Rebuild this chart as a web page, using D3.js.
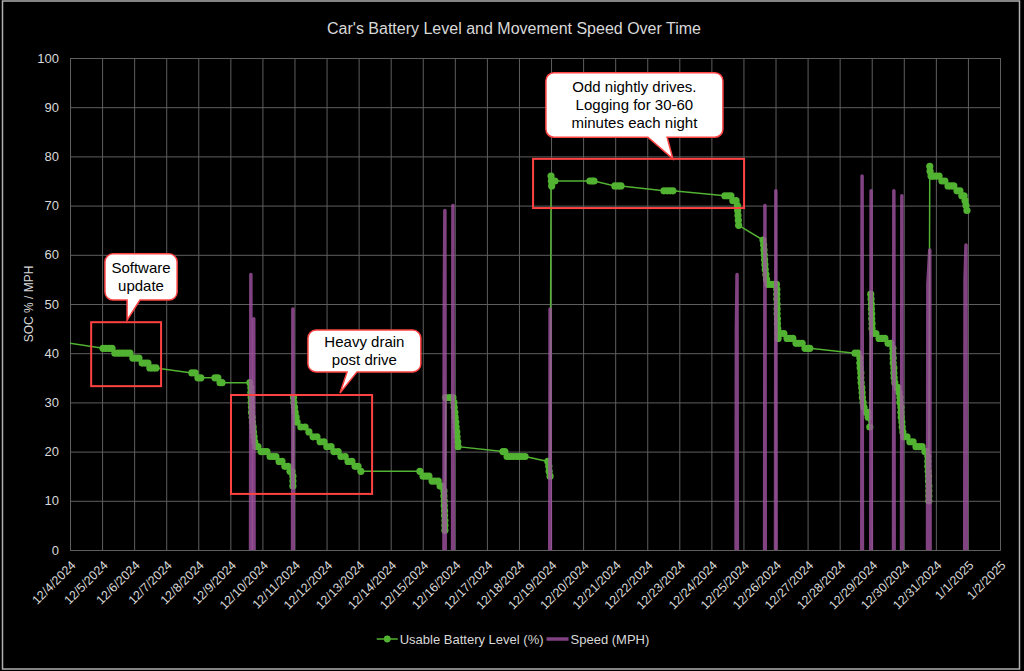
<!DOCTYPE html>
<html>
<head>
<meta charset="utf-8">
<script src="https://cdn.jsdelivr.net/npm/d3@7"></script>
<style>
  body { margin: 0; background: #000; }
  text { font-family: "Liberation Sans", Arial, sans-serif; }
</style>
</head>
<body>
<svg id="chart" width="1024" height="671"></svg>
<script>
// day offsets are days since 12/4/2024 00:00
const startDate = new Date(2024, 11, 4);
const endDate = new Date(2025, 0, 2);
const yTicks = [0, 10, 20, 30, 40, 50, 60, 70, 80, 90, 100];

// Usable Battery Level (%) log: [day offset, soc]
const battery = [
  [-1.00, 43], [0.00, 42],
  [1.03, 41], [1.12, 41], [1.22, 41], [1.31, 41],
  [1.40, 40], [1.50, 40], [1.59, 40], [1.68, 40], [1.78, 40], [1.87, 40],
  [1.96, 39], [2.06, 39], [2.15, 39],
  [2.25, 38], [2.34, 38], [2.43, 38],
  [2.49, 37], [2.59, 37], [2.68, 37],
  [3.80, 36], [3.90, 36], [3.99, 35], [4.08, 35],
  [4.52, 35], [4.61, 35], [4.68, 34], [4.74, 34],
  [5.61, 34], [5.64, 33], [5.64, 32], [5.65, 31], [5.65, 30], [5.66, 29], [5.66, 28],
  [5.68, 27], [5.69, 26], [5.71, 25], [5.72, 24], [5.74, 23], [5.76, 22], [5.80, 21],
  [5.86, 21], [5.96, 20], [6.05, 20], [6.14, 20], [6.24, 19], [6.33, 19], [6.42, 19],
  [6.52, 18], [6.61, 18], [6.70, 17], [6.80, 17], [6.86, 16], [6.92, 16],
  [6.95, 15], [6.95, 14], [6.95, 13],
  [6.97, 31], [6.98, 30], [7.00, 29], [7.02, 28], [7.05, 27], [7.08, 26], [7.20, 25],
  [7.33, 25], [7.45, 24], [7.58, 23], [7.70, 23], [7.80, 22], [7.92, 22], [8.01, 21],
  [8.14, 21], [8.23, 20], [8.36, 20], [8.45, 19], [8.58, 19], [8.67, 18], [8.79, 18],
  [8.89, 17], [8.98, 17], [9.07, 16],
  [10.91, 16], [11.01, 15], [11.10, 15], [11.19, 15], [11.29, 14], [11.38, 14], [11.48, 14],
  [11.54, 13], [11.60, 13],
  [11.66, 12], [11.66, 11], [11.67, 10], [11.67, 9], [11.68, 8], [11.68, 7], [11.69, 6],
  [11.69, 5], [11.69, 4],
  [11.72, 31], [11.85, 31], [11.94, 31], [11.97, 30], [11.98, 29], [12.00, 28], [12.01, 27],
  [12.03, 26], [12.04, 25], [12.06, 24], [12.07, 23], [12.09, 22], [12.10, 21],
  [13.50, 20], [13.56, 20], [13.63, 19], [13.72, 19], [13.81, 19], [13.91, 19], [14.00, 19],
  [14.09, 19], [14.19, 19],
  [14.90, 18], [14.93, 17], [14.94, 16], [14.97, 15],
  [15.00, 76], [15.01, 75], [15.02, 74], [15.06, 75], [15.12, 75],
  [16.21, 75], [16.28, 75], [16.34, 75],
  [16.99, 74], [17.09, 74], [17.18, 74],
  [18.52, 73], [18.62, 73], [18.71, 73], [18.80, 73],
  [20.42, 72], [20.52, 72], [20.61, 72], [20.67, 71], [20.77, 71],
  [20.81, 70], [20.82, 69], [20.83, 68], [20.84, 67], [20.85, 66],
  [21.61, 63], [21.63, 62], [21.64, 61], [21.65, 60], [21.66, 59], [21.67, 58], [21.68, 57],
  [21.70, 56], [21.72, 55],
  [21.76, 54], [21.86, 54], [21.95, 54], [22.03, 54],
  [22.04, 53], [22.04, 52], [22.04, 51], [22.05, 50], [22.05, 49], [22.05, 48], [22.06, 47],
  [22.06, 46], [22.07, 45], [22.07, 44], [22.08, 43],
  [22.17, 44], [22.26, 44], [22.36, 43], [22.45, 43], [22.54, 43], [22.64, 42], [22.73, 42],
  [22.83, 42], [22.92, 41], [23.01, 41], [23.07, 41],
  [24.48, 40], [24.57, 40],
  [24.63, 39], [24.63, 38], [24.64, 37], [24.66, 36], [24.66, 35], [24.67, 34], [24.69, 33],
  [24.70, 32], [24.71, 31], [24.73, 30], [24.76, 29], [24.82, 28], [24.88, 28], [24.89, 27],
  [24.94, 25],
  [24.97, 52], [24.98, 51], [24.99, 50], [24.99, 49], [25.00, 48], [25.00, 47], [25.01, 46],
  [25.01, 45], [25.04, 44],
  [25.13, 44], [25.23, 43], [25.32, 43], [25.41, 43], [25.51, 42], [25.60, 42], [25.66, 41],
  [25.66, 40], [25.67, 39], [25.67, 38], [25.69, 37], [25.69, 36], [25.70, 35], [25.72, 34],
  [25.79, 33], [25.82, 33], [25.85, 32], [25.88, 31], [25.88, 30], [25.91, 29], [25.91, 28],
  [25.92, 27], [25.94, 26], [25.95, 25], [25.97, 24], [26.00, 23],
  [26.10, 23], [26.19, 22], [26.29, 22], [26.38, 21], [26.47, 21], [26.57, 21], [26.66, 20],
  [26.72, 20],
  [26.75, 19], [26.75, 18], [26.75, 17], [26.76, 16], [26.77, 15], [26.77, 14], [26.78, 13],
  [26.78, 12], [26.78, 11], [26.78, 10],
  [26.81, 78], [26.82, 77], [26.85, 76], [26.91, 76], [27.00, 76], [27.10, 76], [27.19, 75],
  [27.28, 75], [27.38, 74], [27.47, 74], [27.56, 74], [27.66, 73], [27.75, 73], [27.81, 72],
  [27.88, 72], [27.91, 71], [27.94, 70], [27.97, 69]
];

// Speed (MPH) log, one array per drive: [day offset, mph]
const speedDrives = [
  [[5.63, 0], [5.64, 56], [5.65, 0]],
  [[5.72, 0], [5.73, 47], [5.74, 0]],
  [[6.94, 0], [6.95, 49], [6.96, 0]],
  [[11.66, 0], [11.67, 48], [11.69, 69], [11.70, 0]],
  [[11.93, 0], [11.94, 70], [11.95, 0]],
  [[14.96, 0], [14.97, 49], [14.98, 0]],
  [[20.77, 0], [20.78, 45], [20.80, 56], [20.81, 0]],
  [[21.66, 0], [21.67, 70], [21.68, 0]],
  [[22.00, 0], [22.01, 73], [22.02, 0]],
  [[24.69, 0], [24.70, 76], [24.71, 0]],
  [[24.97, 0], [24.98, 73], [24.99, 0]],
  [[25.68, 0], [25.69, 73], [25.70, 0]],
  [[25.93, 0], [25.94, 72], [25.95, 0]],
  [[26.74, 0], [26.75, 54], [26.81, 61], [26.82, 0]],
  [[27.90, 0], [27.91, 55], [27.94, 62], [27.95, 0]]
];

// annotation boxes and callouts, in data units
const boxes = [
  { d0: 0.66, d1: 2.84, v0: 33.3, v1: 46.3 },
  { d0: 5.02, d1: 9.42, v0: 11.4, v1: 31.5 },
  { d0: 14.44, d1: 21.02, v0: 69.5, v1: 79.5 }
];
const callouts = [
  { lines: ["Software", "update"], d0: 1.09, d1: 3.34, v0: 50.8, v1: 60.2,
    base: [1.78, 2.18], tip: [1.78, 46.7] },
  { lines: ["Heavy drain", "post drive"], d0: 7.42, d1: 10.94, v0: 36.2, v1: 44.7,
    base: [8.64, 8.95], tip: [8.42, 31.9] },
  { lines: ["Odd nightly drives.", "Logging for 30-60", "minutes each night"],
    d0: 14.84, d1: 20.36, v0: 83.9, v1: 97.0, base: [18.02, 18.62], tip: [18.80, 79.5] }
];

const W = 1024, H = 671;
const margin = { top: 58, right: 24, bottom: 121, left: 70 };
const plotW = W - margin.left - margin.right;
const plotH = H - margin.top - margin.bottom;

const green = "#52b232";
const purple = "#a052a0";
const red = "#ff4343";
const txt = "#d9d9d9";
const grid = "#5e5e5e";

const toDate = d => new Date(startDate.getTime() + d * 864e5);

const svg = d3.select("#chart");
svg.append("rect").attr("width", W).attr("height", H).attr("fill", "#000");
svg.append("rect")
  .attr("x", 2.5).attr("y", 1).attr("width", W - 7).attr("height", H - 3)
  .attr("fill", "none").attr("stroke", "#b0b0b0").attr("stroke-width", 1.5);

const x = d3.scaleTime().domain([startDate, endDate]).range([0, plotW]);
const y = d3.scaleLinear().domain([0, 100]).range([plotH, 0]);

svg.append("defs").append("clipPath").attr("id", "plotClip")
  .append("rect").attr("x", 0).attr("y", -10).attr("width", plotW + 10).attr("height", plotH + 20);

const g = svg.append("g").attr("transform", `translate(${margin.left},${margin.top})`);

// gridlines + axes
const yAxis = g.append("g")
  .call(d3.axisLeft(y).tickValues(yTicks).tickSize(-plotW).tickPadding(11));
yAxis.select(".domain").remove();
yAxis.selectAll("line").attr("stroke", grid);
yAxis.selectAll("text").attr("fill", txt).style("font-size", "13px")
  .style("font-family", "Liberation Sans, Arial, sans-serif");

const xAxis = g.append("g")
  .attr("transform", `translate(0,${plotH})`)
  .call(d3.axisBottom(x).ticks(d3.timeDay.every(1))
    .tickFormat(d3.timeFormat("%-m/%-d/%Y")).tickSize(-plotH));
xAxis.select(".domain").attr("stroke", grid);
xAxis.selectAll("line").attr("stroke", grid);
xAxis.selectAll("text")
  .attr("fill", txt).style("font-size", "12.5px")
  .style("font-family", "Liberation Sans, Arial, sans-serif")
  .style("text-anchor", "end")
  .attr("x", 0).attr("y", 0).attr("dy", 0)
  .attr("transform", "translate(6,16) rotate(-45)");

const marks = g.append("g").attr("clip-path", "url(#plotClip)");

// battery series
const line = d3.line().x(d => x(toDate(d[0]))).y(d => y(d[1]));
marks.append("path").datum(battery)
  .attr("d", line).attr("fill", "none").attr("stroke", green).attr("stroke-width", 1.5);
marks.append("g").selectAll("circle").data(battery.filter(d => d[0] > 0)).join("circle")
  .attr("cx", d => x(toDate(d[0]))).attr("cy", d => y(d[1]))
  .attr("r", 3.6).attr("fill", green);

// speed series
marks.append("g").selectAll("path").data(speedDrives).join("path")
  .attr("d", line).attr("fill", "none")
  .attr("stroke", purple).attr("stroke-width", 3.5).attr("stroke-opacity", 0.8)
  .attr("stroke-linejoin", "round");

// annotation boxes
g.append("g").selectAll("rect").data(boxes).join("rect")
  .attr("x", d => x(toDate(d.d0))).attr("y", d => y(d.v1))
  .attr("width", d => x(toDate(d.d1)) - x(toDate(d.d0)))
  .attr("height", d => y(d.v0) - y(d.v1))
  .attr("fill", "none").attr("stroke", red).attr("stroke-width", 2);

// callouts: rounded rect with a pointer on the bottom edge
const callG = g.append("g");
callouts.forEach(c => {
  const x0 = x(toDate(c.d0)), x1 = x(toDate(c.d1));
  const y0 = y(c.v1), y1 = y(c.v0);
  const bx0 = x(toDate(c.base[0])), bx1 = x(toDate(c.base[1]));
  const tx = x(toDate(c.tip[0])), ty = y(c.tip[1]);
  const r = 8;
  const p = d3.path();
  p.moveTo(x0 + r, y0);
  p.lineTo(x1 - r, y0);
  p.arcTo(x1, y0, x1, y0 + r, r);
  p.lineTo(x1, y1 - r);
  p.arcTo(x1, y1, x1 - r, y1, r);
  p.lineTo(bx1, y1);
  p.lineTo(tx, ty);
  p.lineTo(bx0, y1);
  p.lineTo(x0 + r, y1);
  p.arcTo(x0, y1, x0, y1 - r, r);
  p.lineTo(x0, y0 + r);
  p.arcTo(x0, y0, x0 + r, y0, r);
  p.closePath();
  callG.append("path").attr("d", p.toString())
    .attr("fill", "#fff").attr("stroke", red).attr("stroke-width", 1.5);
  const cx = (x0 + x1) / 2, cy = (y0 + y1) / 2;
  const lh = 18;
  c.lines.forEach((t, i) => {
    callG.append("text")
      .attr("x", cx).attr("y", cy + (i - (c.lines.length - 1) / 2) * lh)
      .attr("dy", "0.35em").attr("text-anchor", "middle")
      .attr("fill", "#000").style("font-size", "15px").text(t);
  });
});

// title and axis title
svg.append("text").attr("x", 514).attr("y", 34).attr("text-anchor", "middle")
  .attr("fill", txt).style("font-size", "16px")
  .text("Car's Battery Level and Movement Speed Over Time");
svg.append("text")
  .attr("transform", `translate(33,${margin.top + plotH / 2}) rotate(-90)`)
  .attr("text-anchor", "middle").attr("fill", txt).style("font-size", "12px")
  .text("SOC % / MPH");

// legend
const leg = svg.append("g").attr("transform", "translate(0,639)");
const l1 = leg.append("g");
l1.append("line").attr("x1", 0).attr("x2", 21).attr("stroke", green).attr("stroke-width", 1.5);
l1.append("circle").attr("cx", 10.5).attr("r", 3.4).attr("fill", green);
const t1 = l1.append("text").attr("x", 23).attr("dy", "0.35em").attr("fill", txt)
  .style("font-size", "13px").text("Usable Battery Level (%)");
const w1 = 23 + t1.node().getComputedTextLength();
const l2 = leg.append("g").attr("transform", `translate(${w1 + 3},0)`);
l2.append("line").attr("x1", 0).attr("x2", 22).attr("stroke", purple)
  .attr("stroke-opacity", 0.8).attr("stroke-width", 3.5);
const t2 = l2.append("text").attr("x", 24).attr("dy", "0.35em").attr("fill", txt)
  .style("font-size", "13px").text("Speed (MPH)");
const wAll = w1 + 3 + 24 + t2.node().getComputedTextLength();
leg.attr("transform", `translate(${513 - wAll / 2},639)`);
</script>
</body>
</html>
